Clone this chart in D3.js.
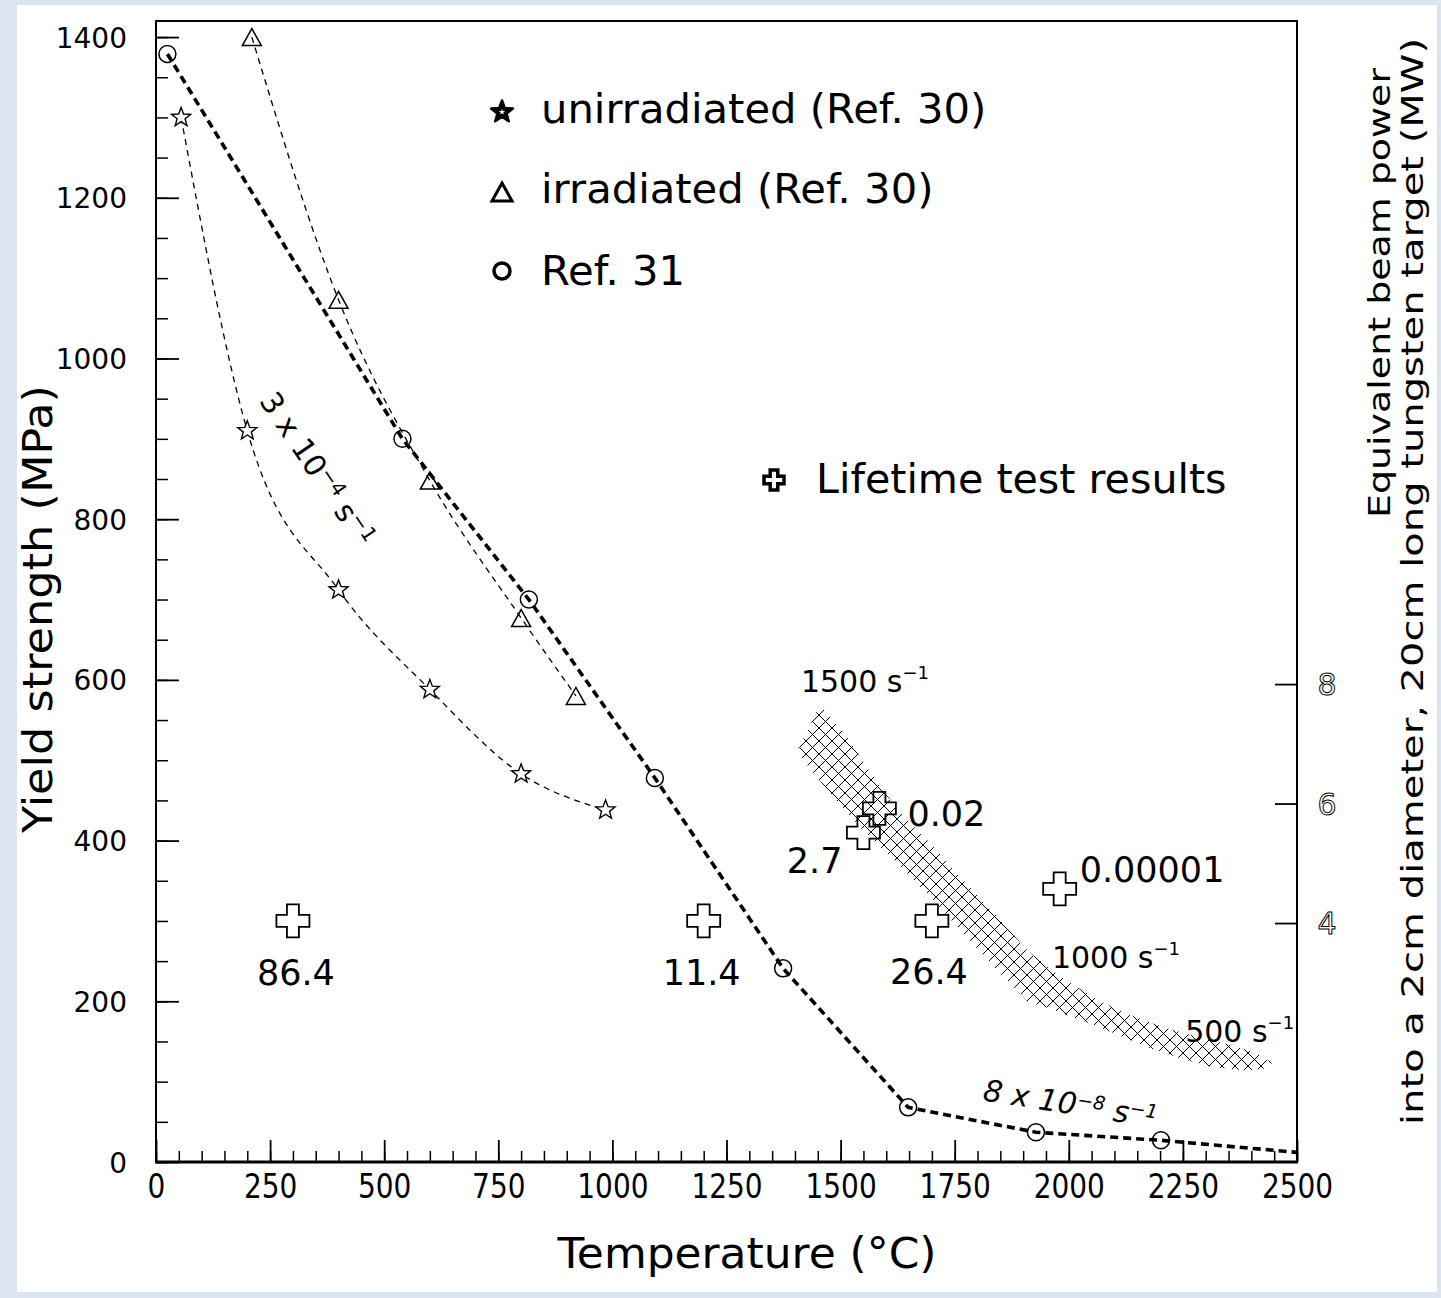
<!DOCTYPE html>
<html><head><meta charset="utf-8">
<script src="https://cdn.jsdelivr.net/npm/d3@7"></script>
<style>
html,body{margin:0;padding:0;background:#dbe5f1;}
svg{display:block}
text{white-space:pre}
</style></head>
<body>
<svg id="chart" width="1441" height="1298"></svg>
<script>
// ---------------- DATA ----------------
const xTickVals = [0,250,500,750,1000,1250,1500,1750,2000,2250,2500];
const yTickVals = [0,200,400,600,800,1000,1200,1400];
const rightTickVals = [4,6,8];

// unirradiated (Ref. 30) - stars
const unirrT = [55, 200, 400, 600, 800, 985];
const unirrV = [1300, 910, 712, 588, 483, 438];
// irradiated (Ref. 30) - triangles
const irrT = [210, 400, 600, 800, 920];
const irrV = [1400, 1073, 848, 677, 580];
// Ref. 31 - circles
const ref31T = [25, 540, 817, 1093, 1374, 1648, 1928, 2202];
const ref31V = [1379, 900, 700, 478, 241, 68, 37, 27];
// Ref. 31 fitted curve (extends to axis end)
const ref31FitT = [25, 540, 817, 1093, 1374, 1648, 1928, 2202, 2500];
const ref31FitV = [1379, 900, 700, 478, 241, 68, 37, 27, 12];

// Lifetime test results
const lifeT = [300, 1200, 1700, 1550, 1585, 1980];
const lifeV = [300, 300, 300, 410, 440, 340];
const lifeLabels = ["86.4", "11.4", "26.4", "2.7", "0.02", "0.00001"];

// high strain rate band (upper / lower boundaries)
const bandUpperT = [1455,1514,1586,1645,1696,1768,1843,1908,1952,2003,2062,2134,2206,2281,2353,2404,2445];
const bandUpperV = [569,529,467,426,397,351,305,264,243,223,202,183,168,156,146,137,124];
const bandLowerT = [1404,1477,1549,1624,1696,1768,1843,1911,1952,2025,2097,2171,2244,2316,2390,2441];
const bandLowerV = [510,459,413,372,330,285,239,199,192,177,161,143,129,118,114,117];

// strain rate annotations
const rateLabels = ["1500 s", "1000 s", "500 s"];
const rateT = [1413, 1963, 2255];
const rateV = [585, 241, 149];

const legendLabels = ["unirradiated (Ref. 30)", "irradiated (Ref. 30)", "Ref. 31"];
const lifeLegendLabel = "Lifetime test results";

// ---------------- LAYOUT ----------------
const FONT = "DejaVu Sans, Verdana, sans-serif";
const svg = d3.select("#chart");
svg.append("rect").attr("x",17).attr("y",5).attr("width",1420).attr("height",1287).attr("fill","#fff");

const defs = svg.append("defs");
const P = 13;
const pat = defs.append("pattern").attr("id","hatch").attr("patternUnits","userSpaceOnUse")
  .attr("width",P).attr("height",P);
pat.append("path").attr("d",`M0,0L${P},${P}M${P},0L0,${P}M-1,${P-1}L1,${P+1}M${P-1},-1L${P+1},1M-1,1L1,-1M${P-1},${P+1}L${P+1},${P-1}`)
  .attr("stroke","#000").attr("stroke-width",1).attr("fill","none");

const x = d3.scaleLinear().domain([0,2500]).range([156,1297]);
const y = d3.scaleLinear().domain([0,1420]).range([1162,21]);
const yR = d3.scaleLinear().domain([0,19.1]).range([1162,21]);
const fmt = d3.format("d");

// minor x ticks
svg.append("g").attr("transform","translate(0,1162)")
  .call(d3.axisBottom(x).tickValues(d3.range(0,2501,50)).tickSize(-11).tickFormat(""))
  .call(g=>{g.select(".domain").remove(); g.selectAll("line").attr("stroke-width",1.5);});
// major x ticks
const gx = svg.append("g").attr("transform","translate(0,1162)")
  .call(d3.axisBottom(x).tickValues(xTickVals).tickSize(-22).tickPadding(0).tickFormat(fmt));
gx.select(".domain").remove();
gx.selectAll("line").attr("stroke-width",1.8);
gx.selectAll(".tick text").attr("y",36).attr("dy",null)
  .attr("font-family",FONT).attr("font-size",33).attr("fill","#000")
  .attr("textLength", d=>fmt(d).length*17.8).attr("lengthAdjust","spacingAndGlyphs");

// minor y ticks
svg.append("g").attr("transform","translate(156,0)")
  .call(d3.axisLeft(y).tickValues(d3.range(0,1401,50)).tickSize(-12).tickFormat(""))
  .call(g=>{g.select(".domain").remove(); g.selectAll("line").attr("stroke-width",1.5);});
const gy = svg.append("g").attr("transform","translate(156,0)")
  .call(d3.axisLeft(y).tickValues(yTickVals).tickSize(-23).tickPadding(29).tickFormat(fmt));
gy.select(".domain").remove();
gy.selectAll("line").attr("stroke-width",1.8);
gy.selectAll(".tick text").attr("font-family",FONT).attr("font-size",28).attr("fill","#000").attr("dy","0.36em");

// right axis
const gr = svg.append("g").attr("transform","translate(1297,0)")
  .call(d3.axisRight(yR).tickValues(rightTickVals).tickSize(-22).tickPadding(0).tickFormat(fmt));
gr.select(".domain").remove();
gr.selectAll("line").attr("stroke-width",1.8);
gr.selectAll(".tick text").attr("x",30).attr("dy","0.36em").attr("text-anchor","middle")
  .attr("font-family",FONT).attr("font-size",30).attr("fill","#fff").attr("stroke","#000").attr("stroke-width",1);

// frame
svg.append("rect").attr("x",156).attr("y",21).attr("width",1141).attr("height",1141)
  .attr("fill","none").attr("stroke","#000").attr("stroke-width",2);
svg.append("line").attr("x1",155).attr("x2",1298).attr("y1",1162).attr("y2",1162).attr("stroke","#000").attr("stroke-width",3);

// axis titles
svg.append("text").attr("x",747).attr("y",1268).attr("text-anchor","middle")
  .attr("font-family",FONT).attr("font-size",43).attr("textLength",379).attr("lengthAdjust","spacingAndGlyphs")
  .text("Temperature (°C)");
svg.append("text").attr("transform","translate(52,609) rotate(-90)").attr("text-anchor","middle")
  .attr("font-family",FONT).attr("font-size",41).attr("textLength",448).attr("lengthAdjust","spacingAndGlyphs")
  .text("Yield strength (MPa)");
svg.append("text").attr("transform","translate(1390,68) rotate(-90)").attr("text-anchor","end")
  .attr("font-family",FONT).attr("font-size",31).attr("textLength",450).attr("lengthAdjust","spacingAndGlyphs")
  .text("Equivalent beam power");
svg.append("text").attr("transform","translate(1423,38) rotate(-90)").attr("text-anchor","end")
  .attr("font-family",FONT).attr("font-size",31).attr("textLength",1087).attr("lengthAdjust","spacingAndGlyphs")
  .text("into a 2cm diameter, 20cm long tungsten target (MW)");

// band
const bandPts = bandUpperT.map((t,i)=>[t,bandUpperV[i]])
  .concat(bandLowerT.map((t,i)=>[t,bandLowerV[i]]).reverse());
svg.append("path").attr("d", "M"+bandPts.map(p=>x(p[0])+","+y(p[1])).join("L")+"Z")
  .attr("fill","url(#hatch)").attr("stroke","none");

// curves
const smooth = d3.line().x(d=>x(d[0])).y(d=>y(d[1])).curve(d3.curveMonotoneX);
const straight = d3.line().x(d=>x(d[0])).y(d=>y(d[1]));
const zip = (a,b)=>a.map((t,i)=>[t,b[i]]);
svg.append("path").attr("d", smooth(zip(unirrT,unirrV))).attr("fill","none").attr("stroke","#000")
  .attr("stroke-width",1.3).attr("stroke-dasharray","6,5");
svg.append("path").attr("d", smooth(zip(irrT,irrV))).attr("fill","none").attr("stroke","#000")
  .attr("stroke-width",1.3).attr("stroke-dasharray","6,5");
svg.append("path").attr("d", straight(zip(ref31FitT,ref31FitV))).attr("fill","none").attr("stroke","#000")
  .attr("stroke-width",3.6).attr("stroke-dasharray","8,5");

// marker shapes
function starPath(R){ const r=R*0.42; let p=[]; for(let i=0;i<10;i++){const a=-Math.PI/2+i*Math.PI/5; const rr=i%2?r:R; p.push([rr*Math.cos(a), rr*Math.sin(a)]);} return "M"+p.map(q=>q[0].toFixed(2)+","+q[1].toFixed(2)).join("L")+"Z"; }
function triPath(w,h){ return `M0,${-h/2}L${w/2},${h/2}L${-w/2},${h/2}Z`; }
function plusPath(a,b){ return `M${-b},${-a}H${b}V${-b}H${a}V${b}H${b}V${a}H${-b}V${b}H${-a}V${-b}H${-b}Z`; }

svg.append("g").selectAll("path").data(zip(unirrT,unirrV)).join("path")
  .attr("transform",d=>`translate(${x(d[0])},${y(d[1])})`).attr("d",starPath(10))
  .attr("fill","#fff").attr("stroke","#000").attr("stroke-width",1.4);
svg.append("g").selectAll("path").data(zip(irrT,irrV)).join("path")
  .attr("transform",d=>`translate(${x(d[0])},${y(d[1])})`).attr("d",triPath(19,17))
  .attr("fill","none").attr("stroke","#000").attr("stroke-width",1.5);
svg.append("g").selectAll("circle").data(zip(ref31T,ref31V)).join("circle")
  .attr("cx",d=>x(d[0])).attr("cy",d=>y(d[1])).attr("r",8.5)
  .attr("fill","none").attr("stroke","#000").attr("stroke-width",1.5);

// lifetime crosses + labels
const lifePlace = [
  {dx:3, dy:64, a:"middle"}, {dx:-2, dy:64, a:"middle"}, {dx:-3, dy:63, a:"middle"},
  {dx:-21, dy:40, a:"end"}, {dx:28, dy:18, a:"start"}, {dx:20, dy:-7, a:"start"}];
const lg = svg.append("g");
lifeT.forEach((t,i)=>{
  const px=x(t), py=y(lifeV[i]);
  lg.append("path").attr("transform",`translate(${px},${py})`).attr("d",plusPath(16.5,6))
    .attr("fill", (i===3||i===4)?"none":"#fff").attr("stroke","#000").attr("stroke-width",1.8);
  lg.append("text").attr("x",px+lifePlace[i].dx).attr("y",py+lifePlace[i].dy).attr("text-anchor",lifePlace[i].a)
    .attr("font-family",FONT).attr("font-size",35).text(lifeLabels[i]);
});

// text with superscripts
function supText(parent, x0, y0, parts, o){
  const t = parent.append("text").attr("transform",`translate(${x0},${y0}) rotate(${o.rotate||0})`)
    .attr("font-family",FONT).attr("font-size",o.size).attr("y",o.y||0);
  if(o.italic) t.attr("font-style","italic");
  let up=false;
  parts.forEach(p=>{
    const ts=t.append("tspan").text(p.t);
    if(p.sup){ ts.attr("font-size",o.supSize); if(!up){ts.attr("dy",-o.rise); up=true;} }
    else if(up){ ts.attr("dy",o.rise); up=false; }
  });
  return t;
}
rateLabels.forEach((s,i)=>{
  supText(svg, x(rateT[i]), y(rateV[i]), [{t:s},{t:"−1",sup:true}], {size:30, supSize:18, rise:13});
});
supText(svg, x(243), y(959)+4, [{t:"3 x 10"},{t:"−4",sup:true},{t:" s"},{t:"−1",sup:true}],
  {size:30, supSize:20, rise:10, rotate:56, y:10});
supText(svg, x(1810), y(77), [{t:"8 x 10"},{t:"−8",sup:true},{t:" s"},{t:"−1",sup:true}],
  {size:30, supSize:19, rise:9, rotate:9, italic:true});

// legend
const legX = 502, legTextX = 541;
const legMarkY = [112, 192, 271], legBase = [123, 203, 285];
svg.append("path").attr("transform",`translate(${legX},${legMarkY[0]})`).attr("d",starPath(11.5))
  .attr("fill","#000").attr("stroke","#000").attr("stroke-width",2.5).attr("stroke-linejoin","round");
svg.append("path").attr("transform",`translate(${legX},${legMarkY[0]})`).attr("d",starPath(3.2))
  .attr("fill","#fff");
svg.append("path").attr("transform",`translate(${legX},${legMarkY[1]})`).attr("d",triPath(20,18))
  .attr("fill","none").attr("stroke","#000").attr("stroke-width",3);
svg.append("circle").attr("cx",legX).attr("cy",legMarkY[2]).attr("r",8)
  .attr("fill","none").attr("stroke","#000").attr("stroke-width",3.5);
legendLabels.forEach((s,i)=>{
  svg.append("text").attr("x",legTextX).attr("y",legBase[i]).attr("font-family",FONT).attr("font-size",41.7).text(s);
});
svg.append("path").attr("transform","translate(774,480)").attr("d",plusPath(10,3.8))
  .attr("fill","#fff").attr("stroke","#000").attr("stroke-width",3.5);
svg.append("text").attr("x",816).attr("y",493).attr("font-family",FONT).attr("font-size",41.2).text(lifeLegendLabel);
</script>
</body></html>
